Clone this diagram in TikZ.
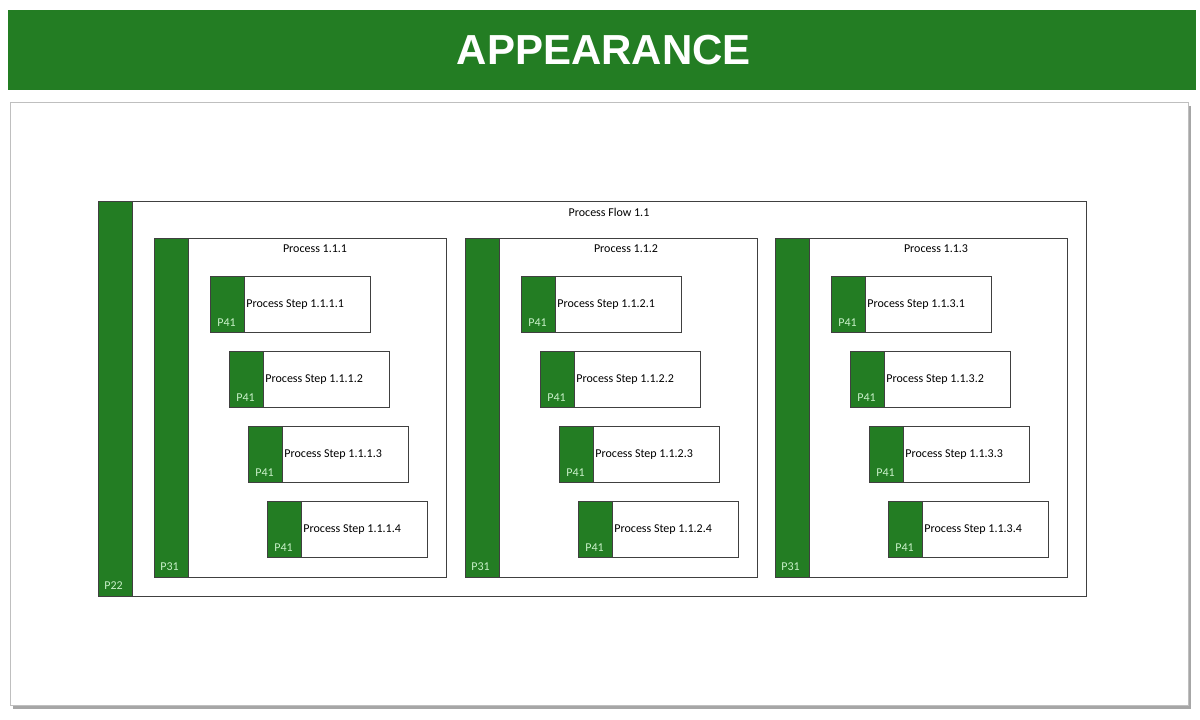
\documentclass[tikz,border=0pt]{standalone}
\usepackage{fontspec}
\setmainfont{Carlito}
\newfontfamily\headfont{Liberation Sans}
\usepackage{xcolor}
\definecolor{procgreen}{RGB}{35,125,35}
\definecolor{tagtext}{RGB}{200,240,200}
\begin{document}
\begin{tikzpicture}[x=0.5pt,y=-0.5pt]
	\tikzset{box/.style = {draw=black!75, fill=white, line width=0.4pt}}
	\tikzset{bar/.style = {draw=black!75, fill=procgreen, line width=0.4pt}}
	\tikzset{tag/.style = {text=tagtext, font=\fontsize{6}{7}\selectfont, inner sep=0pt}}
	\tikzset{lbl/.style = {font=\fontsize{6}{7}\selectfont, inner sep=0pt}}
	\useasboundingbox (0,0) rectangle (1200,719);
	% header
	\fill[procgreen] (8,10) rectangle (1196,90);
	\node[text=white, font=\headfont\bfseries\fontsize{21}{24}\selectfont] (head) at (604,50) {APPEARANCE};
	% panel
	\fill[black!35] (13,106) rectangle (1191,709);
	\draw[fill=white, draw=black!25] (10,102) rectangle (1188,705);
	% process flow
	\draw[box] (98,201) rectangle (1086,596);
	\draw[bar] (98,201) rectangle (132,596);
	\node[tag, anchor=west] (p22) at (104,586) {P22};
	\node[lbl] (flow) at (609,212) {Process Flow 1.1};
	% processes
	\foreach \i/\x in {1/154, 2/465, 3/775} {
		\draw[box] (\x,238) rectangle ++(292,339);
		\draw[bar] (\x,238) rectangle ++(34,339);
		\node[tag, anchor=west] (p31\i) at (\x+6,567) {P31};
		\node[lbl] (proc\i) at (\x+161,249) {Process 1.1.\i};
		% steps
		\foreach \j in {1,...,4} {
			\draw[box] (\x+56+19*\j-19, 276+75*\j-75) rectangle ++(160,56);
			\draw[bar] (\x+56+19*\j-19, 276+75*\j-75) rectangle ++(34,56);
			\node[tag, anchor=west] (p41\i\j) at (\x+63+19*\j-19, 323+75*\j-75) {P41};
			\node[lbl, anchor=west] (step\i\j) at (\x+92+19*\j-19, 305+75*\j-75) {Process Step 1.1.\i.\j};
		}
	}
\end{tikzpicture}
\end{document}
